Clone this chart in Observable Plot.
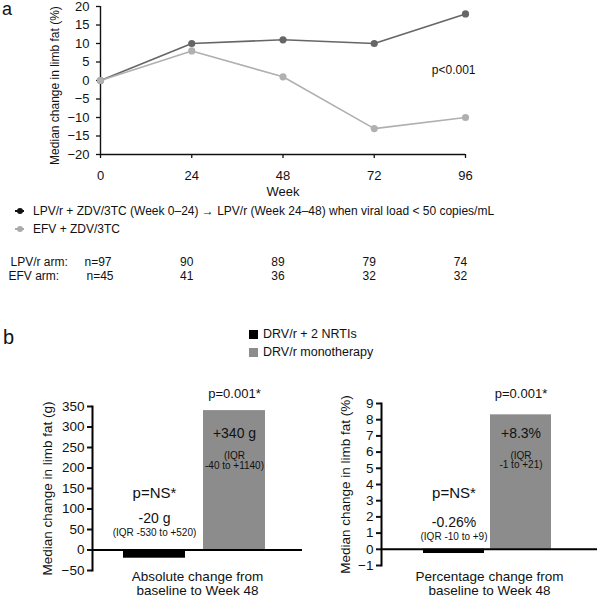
<!DOCTYPE html>
<html><head><meta charset="utf-8">
<script src="https://cdn.jsdelivr.net/npm/d3@7"></script>
<script src="https://cdn.jsdelivr.net/npm/@observablehq/plot@0.6"></script>
<style>
body{margin:0;background:#fff;font-family:"Liberation Sans",Arial,sans-serif;color:#111;}
#fig{position:relative;width:600px;height:598px;overflow:hidden;}
.abs{position:absolute;white-space:nowrap;}
#fig svg{overflow:visible;}
</style></head><body><div id="fig"></div>
<script>
// ---------- Panel a data ----------
const weeks = [0, 24, 48, 72, 96];
const lpvMedian = [0, 10, 11, 10, 18];
const efvMedian = [0, 8, 1, -13, -10];
const lpvN = [97, 90, 89, 79, 74];
const efvN = [45, 41, 36, 32, 32];
const seriesNames = ["LPV/r + ZDV/3TC (Week 0\u201324) \u2192 LPV/r (Week 24\u201348) when viral load < 50 copies/mL", "EFV + ZDV/3TC"];
const seriesColors = ["#666666", "#b0b0b0"];
const legendMarkerColors = ["#111111", "#aaaaaa"];
const armLabels = ["LPV/r arm:", "EFV arm:"];
const yTicksA = [-20, -15, -10, -5, 0, 5, 10, 15, 20];
const pTextA = "p<0.001";

// ---------- Panel b data ----------
const regimens = ["DRV/r + 2 NRTIs", "DRV/r monotherapy"];
const regimenColors = ["#000000", "#8c8c8c"];
const absChange = [-20, 340];
const pctChange = [-0.26, 8.3];
const absLabels = ["-20 g", "+340 g"];
const pctLabels = ["-0.26%", "+8.3%"];
const absIQR = ["(IQR -530 to +520)", "(IQR\n-40 to +1140)"];
const pctIQR = ["(IQR -10 to +9)", "(IQR\n-1 to +21)"];
const pValues = ["p=NS*", "p=0.001*"];
const absTicks = [-50, 0, 50, 100, 150, 200, 250, 300, 350];
const pctTicks = [-1, 0, 1, 2, 3, 4, 5, 6, 7, 8, 9];
const absTitle = "Median change in limb fat (g)";
const pctTitle = "Median change in limb fat (%)";
const absXLabel = "Absolute change from\nbaseline to Week 48";
const pctXLabel = "Percentage change from\nbaseline to Week 48";

const FONT = "Liberation Sans, Arial, sans-serif";
const fig = document.getElementById("fig");
function place(el, left, top) { el.style.position = "absolute"; el.style.left = left + "px"; el.style.top = top + "px"; fig.appendChild(el); return el; }
function div(html, left, top, style) { const d = document.createElement("div"); d.className = "abs"; d.innerHTML = html; if (style) d.style.cssText += style; return place(d, left, top); }

// ---------- Panel a ----------
const lineData = weeks.flatMap((w, i) => [
  {week: w, value: lpvMedian[i], series: seriesNames[0]},
  {week: w, value: efvMedian[i], series: seriesNames[1]}
]);
const tableRows = weeks.map((w, i) => ({week: w, lpv: lpvN[i], efv: efvN[i]}));
const T = {lineAnchor: "middle"};

const plotA = Plot.plot({
  width: 600, height: 290,
  marginTop: 6, marginLeft: 100, marginRight: 135, marginBottom: 136,
  style: {fontFamily: FONT, fontSize: "13px", color: "#111", background: "transparent"},
  x: {domain: [0, 96]},
  y: {domain: [-20, 20]},
  color: {domain: seriesNames, range: seriesColors},
  marks: [
    Plot.axisX({ticks: weeks, tickSize: 4, tickPadding: 12, label: null, strokeWidth: 1.3}),
    Plot.axisY({ticks: yTicksA, tickSize: 4, tickPadding: 7, label: null, strokeWidth: 1.3}),
    Plot.ruleX([0], {stroke: "#111", strokeWidth: 1.4}),
    Plot.ruleY([-20], {stroke: "#111", strokeWidth: 1.4}),
    Plot.line(lineData, {x: "week", y: "value", z: "series", stroke: "series", strokeWidth: 1.6}),
    Plot.dot(lineData, {x: "week", y: "value", fill: "series", r: 3.6}),
    Plot.text(["Week"], {...T, text: d => d, frameAnchor: "bottom", dy: 37, fontSize: 13}),
    Plot.text(["Median change in limb fat (%)"], {...T, text: d => d, frameAnchor: "left", textAnchor: "middle", rotate: -90, dx: -45, dy: 5, fontSize: 12}),
    Plot.text([pTextA], {...T, text: d => d, frameAnchor: "top-right", textAnchor: "end", dx: 10, dy: 64, fontSize: 12}),
    // sample-size table
    Plot.text([armLabels[0]], {...T, text: d => d, frameAnchor: "bottom-left", textAnchor: "start", dx: -90, dy: 108, fontSize: 12}),
    Plot.text([armLabels[1]], {...T, text: d => d, frameAnchor: "bottom-left", textAnchor: "start", dx: -92, dy: 122, fontSize: 12}),
    Plot.text(tableRows.slice(0, 1), {...T, x: "week", text: d => "n=" + d.lpv, frameAnchor: "bottom", textAnchor: "start", dx: -16, dy: 108, fontSize: 12}),
    Plot.text(tableRows.slice(0, 1), {...T, x: "week", text: d => "n=" + d.efv, frameAnchor: "bottom", textAnchor: "start", dx: -14, dy: 122, fontSize: 12}),
    Plot.text(tableRows.slice(1), {...T, x: "week", text: "lpv", frameAnchor: "bottom", dx: -5, dy: 108, fontSize: 12}),
    Plot.text(tableRows.slice(1), {...T, x: "week", text: "efv", frameAnchor: "bottom", dx: -5, dy: 122, fontSize: 12})
  ]
});
place(plotA, 0, 0);

// legend a (line + dot markers)
seriesNames.forEach((name, i) => {
  const top = 211 + i * 18;
  const c = legendMarkerColors[i];
  div(`<span style="position:absolute;left:0;top:-1px;width:9px;height:2px;background:${c}"></span><span style="position:absolute;left:1.5px;top:-3px;width:6px;height:6px;border-radius:50%;background:${c}"></span>`, 15, top);
  div(name, 33, top - 7, "font-size:12px;line-height:14px;");
});

// panel letters
div("a", 2, 0, "font-size:18px;line-height:18px;");
div("b", 3, 331, "font-size:20px;line-height:12px;");

// legend b
regimens.forEach((name, i) => {
  const top = 334 + i * 18;
  div("", 249, top - 4.5, `width:9px;height:9px;background:${regimenColors[i]};`);
  div(name, 263, top - 7.5, "font-size:12.5px;line-height:15px;");
});

// ---------- Panel b ----------
const barData = regimens.map((r, i) => ({
  regimen: r, abs: absChange[i], pct: pctChange[i],
  absLabel: absLabels[i], pctLabel: pctLabels[i],
  absIQR: absIQR[i], pctIQR: pctIQR[i], p: pValues[i]
}));

function barChart({key, labelKey, iqrKey, ticks, domain, title, xlabel, width, mLeft, mTop, mBottom, range, paddingInner, off}) {
  return Plot.plot({
    width, height: 218,
    marginLeft: mLeft, marginRight: 3, marginTop: mTop, marginBottom: mBottom,
    style: {fontFamily: FONT, fontSize: "13.5px", color: "#111", background: "transparent"},
    x: {domain: regimens, range, paddingInner, paddingOuter: 0, axis: null},
    y: {domain},
    color: {domain: regimens, range: regimenColors},
    marks: [
      Plot.axisY({ticks, tickSize: 5, tickPadding: 3, label: null, strokeWidth: 2, fontSize: 13.5}),
      Plot.barY(barData, {x: "regimen", y: key, fill: "regimen"}),
      Plot.ruleY([0], {stroke: "#000", strokeWidth: 2}),
      Plot.frame({anchor: "left", stroke: "#000", strokeWidth: 2}),
      // grey bar annotations
      Plot.text(barData.slice(1), {...T, x: "regimen", text: "p", frameAnchor: "top", dy: off.p1, fontSize: 13}),
      Plot.text(barData.slice(1), {...T, x: "regimen", text: labelKey, frameAnchor: "top", dy: off.l1, fontSize: 14}),
      Plot.text(barData.slice(1), {...T, x: "regimen", text: iqrKey, frameAnchor: "top", dy: off.i1, fontSize: 10, lineHeight: 0.95}),
      // black bar annotations
      Plot.text(barData.slice(0, 1), {...T, x: "regimen", text: "p", frameAnchor: "top", dy: off.p0, fontSize: 15}),
      Plot.text(barData.slice(0, 1), {...T, x: "regimen", text: labelKey, frameAnchor: "top", dy: off.l0, fontSize: 14}),
      Plot.text(barData.slice(0, 1), {...T, x: "regimen", text: iqrKey, frameAnchor: "top", dy: off.i0, fontSize: 10}),
      Plot.text([title], {...T, text: d => d, frameAnchor: "left", textAnchor: "middle", rotate: -90, dx: off.t, fontSize: 13.5}),
      Plot.text([xlabel], {...T, text: d => d, frameAnchor: "bottom", dy: off.x, fontSize: 13.5, lineHeight: 1.0})
    ]
  });
}

const plotB1 = barChart({
  key: "abs", labelKey: "absLabel", iqrKey: "absIQR", ticks: absTicks, domain: [-50, 350],
  title: absTitle, xlabel: absXLabel, width: 305, mLeft: 92, mTop: 26, mBottom: 28,
  range: [122, 265.5], paddingInner: 0.228,
  off: {p1: -13, l1: 27, i1: 54.5, p0: 87, l0: 112, i0: 126, t: -45, x: 13}
});
place(plotB1, 0, 380);

const plotB2 = barChart({
  key: "pct", labelKey: "pctLabel", iqrKey: "pctIQR", ticks: pctTicks, domain: [-1, 9],
  title: pctTitle, xlabel: pctXLabel, width: 300, mLeft: 81, mTop: 23, mBottom: 33,
  range: [122, 252], paddingInner: 0.088,
  off: {p1: -10, l1: 30, i1: 57, p0: 90, l0: 119, i0: 133, t: -36, x: 18}
});
place(plotB2, 300, 380);
</script>
</body></html>
